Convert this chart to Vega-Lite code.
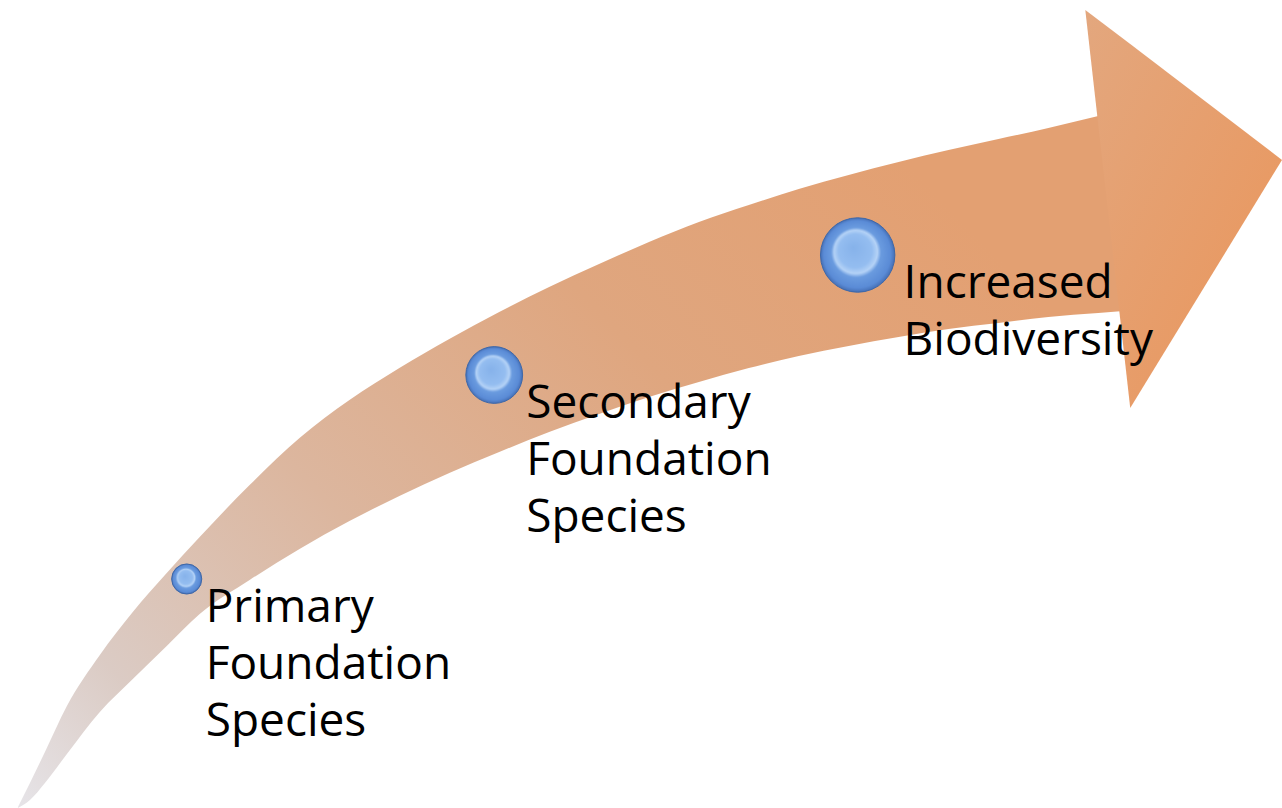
{
  "$schema": "https://vega.github.io/schema/vega-lite/v6.json",
  "width": 1282,
  "height": 808,
  "padding": 0,
  "autosize": {"type": "fit", "contains": "padding"},
  "background": "white",
  "config": {"view": {"stroke": null}},
  "datasets": {
    "body": [
      {"x": 18, "top": 807, "bottom": 808},
      {"x": 30, "top": 783, "bottom": 800},
      {"x": 45, "top": 752, "bottom": 783},
      {"x": 67, "top": 706, "bottom": 754},
      {"x": 100, "top": 655, "bottom": 712},
      {"x": 133, "top": 612, "bottom": 679},
      {"x": 167, "top": 573, "bottom": 646},
      {"x": 200, "top": 537, "bottom": 614},
      {"x": 250, "top": 485, "bottom": 580},
      {"x": 300, "top": 438, "bottom": 549},
      {"x": 350, "top": 400, "bottom": 521},
      {"x": 400, "top": 368, "bottom": 496},
      {"x": 450, "top": 339, "bottom": 473},
      {"x": 500, "top": 312, "bottom": 452},
      {"x": 550, "top": 287, "bottom": 432},
      {"x": 600, "top": 264, "bottom": 414},
      {"x": 650, "top": 242, "bottom": 397},
      {"x": 700, "top": 222, "bottom": 382},
      {"x": 750, "top": 205, "bottom": 368},
      {"x": 800, "top": 189, "bottom": 356},
      {"x": 850, "top": 175, "bottom": 346},
      {"x": 900, "top": 162, "bottom": 337},
      {"x": 950, "top": 150, "bottom": 329},
      {"x": 1000, "top": 139, "bottom": 323},
      {"x": 1050, "top": 128, "bottom": 317},
      {"x": 1100, "top": 116, "bottom": 313},
      {"x": 1125, "top": 110, "bottom": 311}
    ],
    "head": [
      {"x": 1087, "top": 10, "bottom": 10},
      {"x": 1132, "top": 44, "bottom": 408},
      {"x": 1284, "top": 160, "bottom": 160}
    ],
    "nodes": [
      {"x": 187, "y": 579, "level": 1},
      {"x": 495, "y": 375, "level": 2},
      {"x": 859, "y": 255, "level": 3}
    ],
    "labels": [
      {"x": 206, "y": 622, "label": "Primary\nFoundation\nSpecies"},
      {"x": 527, "y": 418, "label": "Secondary\nFoundation\nSpecies"},
      {"x": 905, "y": 298, "label": "Increased\nBiodiversity"}
    ]
  },
  "layer": [
    {
      "data": {"name": "body"},
      "mark": {
        "type": "area",
        "orient": "vertical",
        "interpolate": "monotone",
        "fill": {
          "gradient": "linear",
          "x1": 0, "y1": 1, "x2": 1, "y2": 0.4,
          "stops": [
            {"offset": 0, "color": "#e6e4e8"},
            {"offset": 0.15, "color": "#dbcbc4"},
            {"offset": 0.4, "color": "#dcb69e"},
            {"offset": 0.7, "color": "#dfa67f"},
            {"offset": 1, "color": "#e3a072"}
          ]
        }
      },
      "encoding": {
        "x": {"field": "x", "type": "quantitative", "scale": {"domain": [0, 1282], "nice": false, "zero": false}, "axis": null},
        "y": {"field": "top", "type": "quantitative", "scale": {"domain": [0, 808], "nice": false, "zero": false, "reverse": true}, "axis": null},
        "y2": {"field": "bottom"}
      }
    },
    {
      "data": {"name": "head"},
      "mark": {
        "type": "area",
        "orient": "vertical",
        "fill": {
          "gradient": "linear",
          "x1": 0, "y1": 0, "x2": 1, "y2": 1,
          "stops": [
            {"offset": 0, "color": "#e3a77e"},
            {"offset": 1, "color": "#ea955a"}
          ]
        }
      },
      "encoding": {
        "x": {"field": "x", "type": "quantitative", "axis": null},
        "y": {"field": "top", "type": "quantitative", "axis": null},
        "y2": {"field": "bottom"}
      }
    },
    {
      "data": {"name": "nodes"},
      "mark": {
        "type": "point",
        "shape": "circle",
        "filled": true,
        "opacity": 1,
        "stroke": "#3f68a8",
        "strokeWidth": 1,
        "fill": {
          "gradient": "radial",
          "x1": 0.44, "y1": 0.4, "r1": 0,
          "x2": 0.5, "y2": 0.5, "r2": 0.5,
          "stops": [
            {"offset": 0, "color": "#86b2ea"},
            {"offset": 0.45, "color": "#94bdf0"},
            {"offset": 0.58, "color": "#b4d2f6"},
            {"offset": 0.67, "color": "#6a9bdf"},
            {"offset": 0.9, "color": "#5a8bd6"},
            {"offset": 1, "color": "#456fb5"}
          ]
        }
      },
      "encoding": {
        "x": {"field": "x", "type": "quantitative", "axis": null},
        "y": {"field": "y", "type": "quantitative", "axis": null},
        "size": {"field": "level", "type": "quantitative", "scale": {"domain": [1, 3], "range": [908, 5542]}, "legend": null}
      }
    },
    {
      "data": {"name": "labels"},
      "mark": {
        "type": "text",
        "align": "left",
        "baseline": "alphabetic",
        "lineBreak": "\n",
        "lineHeight": 57,
        "font": "Open Sans",
        "fontSize": 46,
        "color": "#000000"
      },
      "encoding": {
        "x": {"field": "x", "type": "quantitative", "axis": null},
        "y": {"field": "y", "type": "quantitative", "axis": null},
        "text": {"field": "label"}
      }
    }
  ]
}
